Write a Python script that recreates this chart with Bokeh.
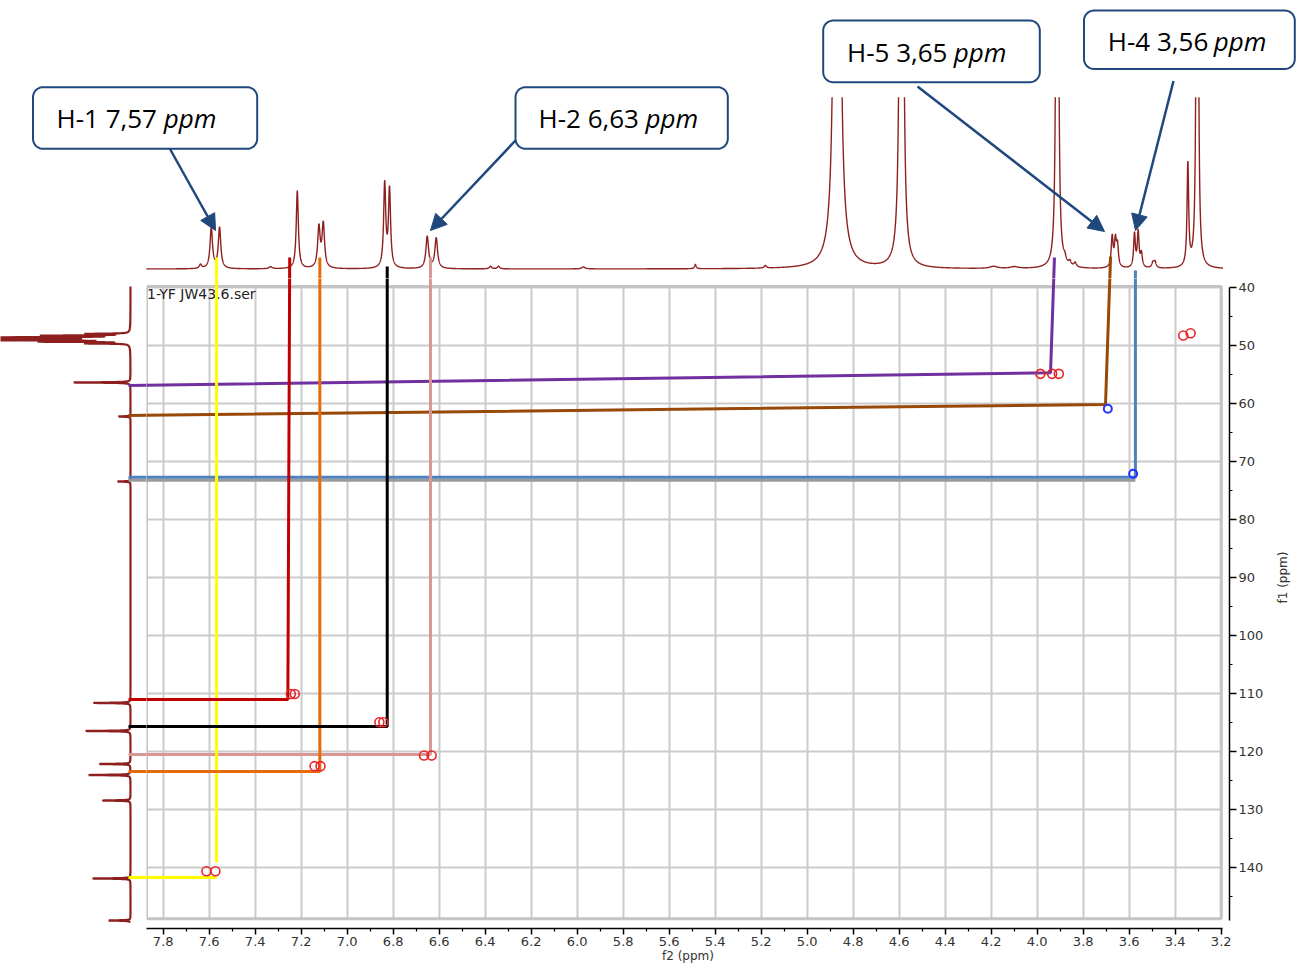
import numpy as np
from bokeh.plotting import figure
from bokeh.layouts import column, row
from bokeh.models import Range1d, FixedTicker, PrintfTickFormatter, Arrow, NormalHead
from bokeh.core.properties import value
from bokeh.embed import file_html
from bokeh.resources import INLINE

# ====================== DATA ======================
# 1H projection (f2): peak position (ppm), height (1.0 = top of the trace window), half width (ppm)
h_peak_ppm = [7.638, 7.591, 7.555, 7.333, 7.217, 7.123, 7.104, 6.837, 6.816, 6.652, 6.613,
              6.377, 6.342, 5.973, 5.486, 5.182, 4.870, 4.590, 4.190, 4.100, 3.913,
              3.880, 3.858, 3.835, 3.674, 3.660, 3.651, 3.577, 3.561, 3.547, 3.497, 3.488,
              3.345, 3.304]
h_peak_height = [0.023, 0.234, 0.237, 0.012, 0.453, 0.234, 0.253, 0.486, 0.453, 0.185, 0.176,
                 0.015, 0.015, 0.012, 0.025, 0.015, 17.4, 17.4, 0.012, 0.010, 17.4,
                 0.030, 0.025, 0.025, 0.176, 0.150, 0.120, 0.195, 0.205, 0.080, 0.030, 0.035,
                 0.593, 17.4]
h_peak_width = [0.006, 0.0065, 0.0065, 0.008, 0.0055, 0.0065, 0.0065, 0.0055, 0.0055, 0.007, 0.007,
                0.006, 0.006, 0.008, 0.004, 0.006, 0.0054, 0.0032, 0.02, 0.02, 0.0021,
                0.006, 0.006, 0.006, 0.005, 0.005, 0.005, 0.0045, 0.0045, 0.005, 0.006, 0.006,
                0.0042, 0.0018]

# 13C projection (f1): peak position (ppm), height (1.0 = 120 px), half width (ppm)
c_peak_ppm = [47.95, 48.25, 48.55, 48.80, 49.05, 49.30, 49.60, 56.34, 62.21, 73.43,
              111.65, 116.49, 122.19, 124.09, 128.49, 141.95, 149.20]
c_peak_height = [0.35, 0.70, 1.10, 1.60, 1.10, 0.70, 0.35, 0.475, 0.10, 0.108,
                 0.31, 0.375, 0.26, 0.35, 0.233, 0.317, 0.183]
c_peak_width = [0.05, 0.05, 0.05, 0.05, 0.05, 0.05, 0.05, 0.05, 0.05, 0.05,
                0.05, 0.05, 0.05, 0.05, 0.05, 0.05, 0.05]

# HSQC cross peaks (f2 ppm, f1 ppm)
xpk_red_h = [7.612, 7.573, 7.245, 7.228, 7.142, 7.116, 6.860, 6.843, 6.666, 6.633,
             3.986, 3.935, 3.906, 3.365, 3.333]
xpk_red_c = [140.69, 140.69, 110.10, 110.10, 122.56, 122.56, 114.97, 114.97, 120.71, 120.71,
             54.85, 54.85, 54.85, 48.23, 47.84]
xpk_blue_h = [3.693, 3.583]
xpk_blue_c = [60.88, 72.10]

# correlation guide lines (f2 at top, f2 at corner, f1 at corner / horizontal ends)
corr_h_top = [3.925, 3.681, 3.573, 6.638, 7.568, 7.250, 7.119, 6.826]
corr_h_end = [3.942, 3.703, 3.573, 6.638, 7.568, 7.258, 7.119, 6.826]
corr_c_vend = [54.67, 60.14, 72.70, 120.54, 139.19, 111.06, 123.48, 115.71]
corr_c_hright = [54.67, 60.14, 72.70, 120.54, 141.78, 111.06, 123.48, 115.71]
corr_c_hleft = [56.86, 62.04, 72.70, 120.54, 141.78, 111.06, 123.48, 115.71]

# callouts
callout_label = ["H-1 7,57", "H-2 6,63", "H-5 3,65", "H-4 3,56"]
callout_unit = ["ppm", "ppm", "ppm", "ppm"]

# axes
x_major_ticks = [7.8, 7.6, 7.4, 7.2, 7.0, 6.8, 6.6, 6.4, 6.2, 6.0, 5.8, 5.6, 5.4, 5.2,
                 5.0, 4.8, 4.6, 4.4, 4.2, 4.0, 3.8, 3.6, 3.4, 3.2]
x_minor_ticks = [7.7, 7.5, 7.3, 7.1, 6.9, 6.7, 6.5, 6.3, 6.1, 5.9, 5.7, 5.5, 5.3, 5.1,
                 4.9, 4.7, 4.5, 4.3, 4.1, 3.9, 3.7, 3.5, 3.3]
y_major_ticks = [40, 50, 60, 70, 80, 90, 100, 110, 120, 130, 140]
y_minor_ticks = [45, 55, 65, 75, 85, 95, 105, 115, 125, 135, 145]
spectrum_name = "1-YF JW43.6.ser"
x_axis_title = "f2 (ppm)"
y_axis_title = "f1 (ppm)"

# ====================== STYLE / LAYOUT (page pixels) ======================
corr_colors = ["#7030a0", "#984807", "#4f81bd", "#d99694", "#ffff00", "#c00000", "#e46c0a", "#000000"]
corr_top_start_px = [257, 256, 270, 257, 257, 257, 257, 266]
callout_box_px = [(32.5, 256.7, 86.7, 148.3), (515.0, 727.3, 86.7, 148.3),
                  (822.7, 1039.3, 20.0, 81.7), (1083.5, 1294.3, 10.0, 68.5)]
callout_text_px = [(56.0, 127.5), (538.0, 127.5), (846.5, 61.5), (1107.3, 50.7)]  # baseline
callout_unit_px = [163.3, 645.0, 953.3, 1213.3]
callout_arrow_px = [(169.5, 148.5, 215.0, 230.0), (515.0, 140.0, 430.0, 230.0),
                    (917.0, 86.0, 1104.0, 231.0), (1173.0, 80.5, 1135.0, 230.0)]
CALLOUT_MID_SHIFT = 10.1   # baseline -> middle of the text box, Open Sans 26px
NAME_MID_SHIFT = 4.9       # same for DejaVu Sans 14px
CALLOUT_BLUE = "#1f497d"
TRACE = "#8e1f1f"
GRID = "#cbcbcb"
BLUE_LINE = "#4f81bd"

H_REF_PPM, H_REF_PX, H_PX_PER_PPM = 7.8, 162.7, 230.0
C_REF_PPM, C_REF_PX, C_PX_PER_PPM = 40.0, 287.3, 5.794
TOP_BASE_PX, TOP_UNIT_PX = 268.5, 171.8
LEFT_BASE_PX, LEFT_UNIT_PX = 130.0, 120.0

W_TOTAL, H_TOTAL = 1304, 966
TOP_H = 278
LEFT_W = 146
ROW_H = H_TOTAL - TOP_H
MAIN_W = W_TOTAL - LEFT_W
FRAME_L, FRAME_R, FRAME_T, FRAME_B = LEFT_W, 1229, TOP_H, 928
BOX_L, BOX_R, BOX_T, BOX_B = 146, 1220.7, 286, 918.3


def hx(px):
    return H_REF_PPM - (px - H_REF_PX) / H_PX_PER_PPM


def cy(py):
    return C_REF_PPM + (py - C_REF_PX) / C_PX_PER_PPM


def px_of_h(h):
    return H_REF_PX + (H_REF_PPM - h) * H_PX_PER_PPM


def py_of_c(c):
    return C_REF_PX + (c - C_REF_PPM) * C_PX_PER_PPM


def top_v(py):
    return (TOP_BASE_PX - py) / TOP_UNIT_PX


def left_v(px):
    return (LEFT_BASE_PX - px) / LEFT_UNIT_PX


def lorentz_sum(axis, centers, heights, widths):
    a = np.asarray(axis)[:, None]
    c = np.asarray(centers)[None, :]
    w = np.asarray(widths)[None, :]
    h = np.asarray(heights)[None, :]
    return (h * w ** 2 / ((a - c) ** 2 + w ** 2)).sum(axis=1)


def clip_open(trace, limit):
    over = trace > limit
    inner = over & np.roll(over, 1) & np.roll(over, -1)
    return np.where(inner, np.nan, np.minimum(trace, limit))


def bare(fig):
    fig.grid.visible = False
    fig.outline_line_color = None
    fig.background_fill_color = "white"
    fig.border_fill_color = "white"


order = range(len(corr_h_top))
SHADOW = 3.0 / C_PX_PER_PPM

# ---------------- top: 1H projection + callouts ----------------
top = figure(width=W_TOTAL, height=TOP_H, x_range=Range1d(hx(0), hx(W_TOTAL)),
             y_range=Range1d(top_v(TOP_H), top_v(0)), x_axis_location=None,
             y_axis_location=None, toolbar_location=None, output_backend="svg", min_border=0)
bare(top)

h_axis = np.linspace(hx(146), hx(1222.5), 14000)
h_trace = clip_open(lorentz_sum(h_axis, h_peak_ppm, h_peak_height, h_peak_width), 1.0)
top.line(h_axis, h_trace, line_color=TRACE, line_width=1.4)

for i in order:
    top.line([corr_h_top[i], corr_h_end[i]],
             [top_v(corr_top_start_px[i]), top_v(py_of_c(corr_c_vend[i]))],
             line_color=corr_colors[i], line_width=3)


def rounded_box(l, r, t, b, rad=10.0, n=10):
    xs, ys = [], []
    for cxp, cyp, a0, a1 in [(r - rad, t + rad, -90, 0), (r - rad, b - rad, 0, 90),
                             (l + rad, b - rad, 90, 180), (l + rad, t + rad, 180, 270)]:
        ang = np.radians(np.linspace(a0, a1, n))
        xs += list(cxp + rad * np.cos(ang))
        ys += list(cyp + rad * np.sin(ang))
    return [hx(x) for x in xs], [top_v(y) for y in ys]


for k in range(len(callout_label)):
    bx, by = rounded_box(*callout_box_px[k])
    top.patch(bx, by, fill_color="white", line_color=CALLOUT_BLUE, line_width=2)
    tx, ty = callout_text_px[k]
    ymid = top_v(ty - CALLOUT_MID_SHIFT)
    top.text(x=[hx(tx)], y=[ymid], text=[callout_label[k]], text_font=value("Open Sans"),
             text_font_size="26px", text_baseline="middle", text_align="left", text_color="black")
    top.text(x=[hx(callout_unit_px[k])], y=[ymid], text=[callout_unit[k]],
             text_font=value("Open Sans"), text_font_style="italic",
             text_font_size="26px", text_baseline="middle", text_align="left", text_color="black")
    x0, y0, x1, y1 = callout_arrow_px[k]
    top.add_layout(Arrow(end=NormalHead(size=16, fill_color=CALLOUT_BLUE, line_color=CALLOUT_BLUE),
                         x_start=hx(x0), y_start=top_v(y0), x_end=hx(x1), y_end=top_v(y1),
                         line_color=CALLOUT_BLUE, line_width=2.5))

# ---------------- left: 13C projection ----------------
left = figure(width=LEFT_W, height=ROW_H, x_range=Range1d(left_v(0), left_v(LEFT_W)),
              y_range=Range1d(cy(FRAME_B), cy(FRAME_T)), x_axis_location=None,
              y_axis_location=None, toolbar_location=None, output_backend="svg",
              min_border_left=0, min_border_right=0, min_border_top=0,
              min_border_bottom=H_TOTAL - FRAME_B)
bare(left)

c_axis = np.linspace(cy(286), cy(922), 12000)
c_trace = lorentz_sum(c_axis, c_peak_ppm, c_peak_height, c_peak_width)
left.line(c_trace, c_axis, line_color=TRACE, line_width=2.2)

for i in order:
    if corr_colors[i] == BLUE_LINE:
        left.line([left_v(128), left_v(px_of_h(corr_h_end[i]))],
                  [corr_c_hleft[i] + SHADOW, corr_c_hright[i] + SHADOW], line_color="#9a9a9a", line_width=3)
    left.line([left_v(128), left_v(px_of_h(corr_h_end[i]))], [corr_c_hleft[i], corr_c_hright[i]],
              line_color=corr_colors[i], line_width=3)

# ---------------- main: HSQC map ----------------
main = figure(width=MAIN_W, height=ROW_H, x_range=Range1d(hx(FRAME_L), hx(FRAME_R)),
              y_range=Range1d(cy(FRAME_B), cy(FRAME_T)), y_axis_location="right",
              toolbar_location=None, output_backend="svg", min_border_left=0, min_border_top=0,
              min_border_right=W_TOTAL - FRAME_R, min_border_bottom=H_TOTAL - FRAME_B)
main.outline_line_color = None
main.background_fill_color = "white"
main.border_fill_color = "white"

xt = FixedTicker(ticks=x_major_ticks, minor_ticks=x_minor_ticks)
yt = FixedTicker(ticks=y_major_ticks, minor_ticks=y_minor_ticks)
xa = main.xaxis[0]
ya = main.yaxis[0]
xa.ticker = xt
ya.ticker = yt
main.xgrid.ticker = xt
main.ygrid.ticker = yt
main.xgrid.cross_bounds = (cy(BOX_T), cy(BOX_B))
main.ygrid.cross_bounds = (hx(BOX_R), hx(BOX_L))
xa.formatter = PrintfTickFormatter(format="%.1f")
ya.formatter = PrintfTickFormatter(format="%d")
xa.bounds = (hx(1222), hx(BOX_L))
ya.bounds = (cy(287), cy(920))
for ax, tick_out, standoff in [(xa, 6, 2), (ya, 7, 2)]:
    ax.major_tick_out = tick_out
    ax.major_tick_in = 0
    ax.minor_tick_out = 3
    ax.minor_tick_in = 0
    ax.axis_line_color = "black"
    ax.axis_line_width = 1.5
    ax.major_tick_line_color = "black"
    ax.major_tick_line_width = 1.5
    ax.minor_tick_line_color = "black"
    ax.minor_tick_line_width = 1.2
    ax.major_label_text_font = "DejaVu Sans"
    ax.major_label_text_font_size = "13px"
    ax.major_label_text_color = "#333333"
    ax.major_label_standoff = standoff
    ax.axis_label_text_font = "DejaVu Sans"
    ax.axis_label_text_font_size = "12px"
    ax.axis_label_text_font_style = "normal"
    ax.axis_label_text_color = "#333333"
xa.axis_label = x_axis_title
xa.axis_label_standoff = 0
ya.axis_label = y_axis_title
ya.axis_label_standoff = 17
if "axis_label_orientation" in ya.properties():
    ya.axis_label_orientation = np.pi / 2
main.grid.grid_line_color = GRID
main.grid.grid_line_width = 2

# grey frame of the map
main.line([hx(BOX_L), hx(BOX_R), hx(BOX_R), hx(BOX_L), hx(BOX_L)],
          [cy(BOX_T), cy(BOX_T), cy(BOX_B), cy(BOX_B), cy(BOX_T)],
          line_color="#c4c4c4", line_width=3)

main.text(x=[hx(146.5)], y=[cy(298.3 - NAME_MID_SHIFT)], text=[spectrum_name],
          text_font=value("DejaVu Sans"), text_font_size="14px", text_baseline="middle",
          text_align="left", text_color="#222222")

for i in order:
    xl = hx(128)
    if corr_colors[i] == BLUE_LINE:
        main.line([xl, corr_h_end[i]], [corr_c_hleft[i] + SHADOW, corr_c_hright[i] + SHADOW],
                  line_color="#9a9a9a", line_width=3)
    if corr_c_hright[i] == corr_c_vend[i]:
        xs = [corr_h_top[i], corr_h_end[i], xl]
        ys = [cy(corr_top_start_px[i]), corr_c_vend[i], corr_c_hleft[i]]
    else:
        xs = [corr_h_top[i], corr_h_end[i], np.nan, corr_h_end[i], xl]
        ys = [cy(corr_top_start_px[i]), corr_c_vend[i], np.nan, corr_c_hright[i], corr_c_hleft[i]]
    main.line(xs, ys, line_color=corr_colors[i], line_width=3)

main.scatter(xpk_red_h, xpk_red_c, marker="circle", size=9, fill_color=None,
             line_color="#e8262a", line_width=1.6)
main.scatter(xpk_blue_h, xpk_blue_c, marker="circle", size=8, fill_color=None,
             line_color="#2233ff", line_width=2)

layout = column(top, row(left, main))
open("out.html", "w").write(file_html(layout, INLINE))
